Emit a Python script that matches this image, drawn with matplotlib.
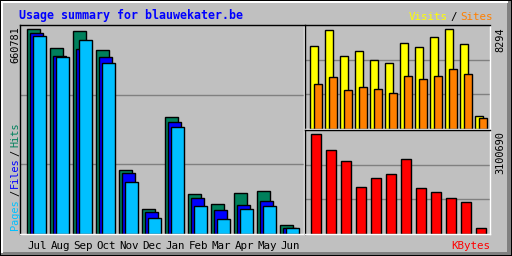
import matplotlib
matplotlib.use("Agg")
import matplotlib.pyplot as plt
import numpy as np
from matplotlib.lines import Line2D
from matplotlib.patches import Rectangle

# Monthly usage values
months = ["Jul", "Aug", "Sep", "Oct", "Nov", "Dec", "Jan", "Feb", "Mar", "Apr", "May", "Jun"]
hits = [660781, 599200, 654300, 592800, 207300, 81000, 375700, 129600, 97200, 132800, 139300, 29200]
files = [647800, 573300, 596000, 570100, 197600, 71300, 359500, 116600, 77700, 93900, 106900, 19400]
pages = [638100, 570100, 625100, 550600, 168400, 51800, 343300, 90700, 48600, 81000, 90700, 19400]
visits = [6855, 8209, 6094, 6432, 5755, 5501, 7109, 6770, 7617, 8294, 7024, 1100]
sites = [3724, 4316, 3216, 3470, 3300, 2962, 4401, 4147, 4401, 4993, 4570, 931]
kbytes = [3100690, 2599600, 2255000, 1472000, 1722600, 1847900, 2317700, 1440700, 1315400, 1127500, 1002200, 187900]

C_HIT = "#00805c"
C_FILE = "#0000ff"
C_PAGE = "#00c0ff"
C_VISIT = "#ffff00"
C_SITE = "#ff8000"
C_KB = "#ff0000"
BG = "#c0c0c0"
GRID = "#808080"

W, H = 512, 256
FONT = "DejaVu Sans Mono"
FS = 7.4
LW = 0.72  # one pixel at 100 dpi


def fx(x):
    return x / W


def fy(y):
    return 1 - y / H


def panel(fig, x0, y0, x1, y1):
    ax = fig.add_axes([fx(x0), fy(y1), (x1 - x0) / W, (y1 - y0) / H])
    ax.set_facecolor(BG)
    for side in ["top", "left"]:
        ax.spines[side].set_color("black")
        ax.spines[side].set_linewidth(LW * 1.4)
    for side in ["bottom", "right"]:
        ax.spines[side].set_color("white")
        ax.spines[side].set_linewidth(LW * 1.4)
    ax.tick_params(length=0, labelleft=False, labelbottom=False)
    ax.set_axisbelow(True)
    return ax


def grid_thirds(ax, ymax):
    ax.set_ylim(0, ymax)
    ax.set_yticks([ymax / 3, 2 * ymax / 3])
    ax.yaxis.grid(True, color=GRID, linewidth=LW * 1.4)


fig = plt.figure(figsize=(W / 100, H / 100), dpi=100)
fig.patch.set_facecolor(BG)

# 3D frame around the image
frame = [
    Rectangle((fx(507), 0), fx(5), 1, transform=fig.transFigure, color="#808080", lw=0, zorder=-2),
    Rectangle((0, 0), 1, fy(252), transform=fig.transFigure, color="#808080", lw=0, zorder=-2),
    Line2D([fx(1.5), fx(1.5)], [fy(1), fy(252)], transform=fig.transFigure, color="white", lw=LW * 2, zorder=-1),
    Line2D([fx(1), fx(507)], [fy(1.5), fy(1.5)], transform=fig.transFigure, color="white", lw=LW * 2, zorder=-1),
    Rectangle((0, 0), 1, 1, transform=fig.transFigure, fill=False, ec="black", lw=LW * 2, zorder=-1),
]
for a in frame:
    fig.add_artist(a)

x = np.arange(len(months))

# Main panel: hits / files / pages
ax = panel(fig, 20, 25, 304, 234)
bw = 13 / 23
ax.bar(x, hits, width=bw, align="edge", color=C_HIT, edgecolor="black", linewidth=LW * 1.4)
ax.bar(x + 3 / 23, files, width=bw, align="edge", color=C_FILE, edgecolor="black", linewidth=LW * 1.4)
ax.bar(x + 6 / 23, pages, width=bw, align="edge", color=C_PAGE, edgecolor="black", linewidth=LW * 1.4)
ax.set_xlim(-0.3, 284 / 23 - 0.3)
grid_thirds(ax, max(hits) * 209 / 205)
ax.set_xticks(x + 0.45)
ax.set_xticklabels(months, fontfamily=FONT, fontsize=FS + 0.4)
ax.tick_params(labelbottom=True, pad=5)

# Visits / sites panel
ax2 = panel(fig, 305, 25, 490, 129)
ax2.bar(x, visits, width=8 / 15, align="edge", color=C_VISIT, edgecolor="black", linewidth=LW * 1.4)
ax2.bar(x + 4 / 15, sites, width=8 / 15, align="edge", color=C_SITE, edgecolor="black", linewidth=LW * 1.4)
ax2.set_xlim(-5 / 15, 180 / 15)
grid_thirds(ax2, max(visits) * 104 / 100)

# KBytes panel
ax3 = panel(fig, 305, 130, 490, 234)
ax3.bar(x + 1 / 15, kbytes, width=9.5 / 15, align="edge", color=C_KB, edgecolor="black", linewidth=LW * 1.4)
ax3.set_xlim(-5 / 15, 180 / 15)
grid_thirds(ax3, max(kbytes) * 104 / 100)

# Texts
fig.text(fx(19), fy(15), "Usage summary for blauwekater.be", color=C_FILE, fontfamily=FONT,
         fontsize=8.4, fontweight="bold", ha="left", va="center")
fig.text(fx(15), fy(26), str(max(hits)), rotation=90, fontfamily=FONT, fontsize=FS,
         ha="center", va="top")
fig.text(fx(500), fy(27), str(max(visits)), rotation=90, fontfamily=FONT, fontsize=FS,
         ha="center", va="top")
fig.text(fx(500), fy(131), str(max(kbytes)), rotation=90, fontfamily=FONT, fontsize=FS,
         ha="center", va="top")
fig.text(fx(490), fy(246), "KBytes", color=C_KB, fontfamily=FONT, fontsize=FS + 0.4,
         ha="right", va="center")

# Visits/Sites legend (top right)
fig.text(fx(448), fy(17), "Visits", color=C_VISIT, fontfamily=FONT, fontsize=FS + 0.4, ha="right", va="center")
fig.text(fx(454), fy(17), "/", color="black", fontfamily=FONT, fontsize=FS + 0.4, ha="center", va="center")
fig.text(fx(460), fy(17), "Sites", color=C_SITE, fontfamily=FONT, fontsize=FS + 0.4, ha="left", va="center")

# Pages/Files/Hits legend (left, rotated)
for label, color, yc in [("Pages", C_PAGE, 215), ("/", "black", 193), ("Files", C_FILE, 173),
                         ("/", "black", 153), ("Hits", C_HIT, 135)]:
    fig.text(fx(15), fy(yc), label, color=color, rotation=90, fontfamily=FONT, fontsize=FS,
             ha="center", va="center")

fig.savefig("out.png", dpi=100, facecolor=BG)
